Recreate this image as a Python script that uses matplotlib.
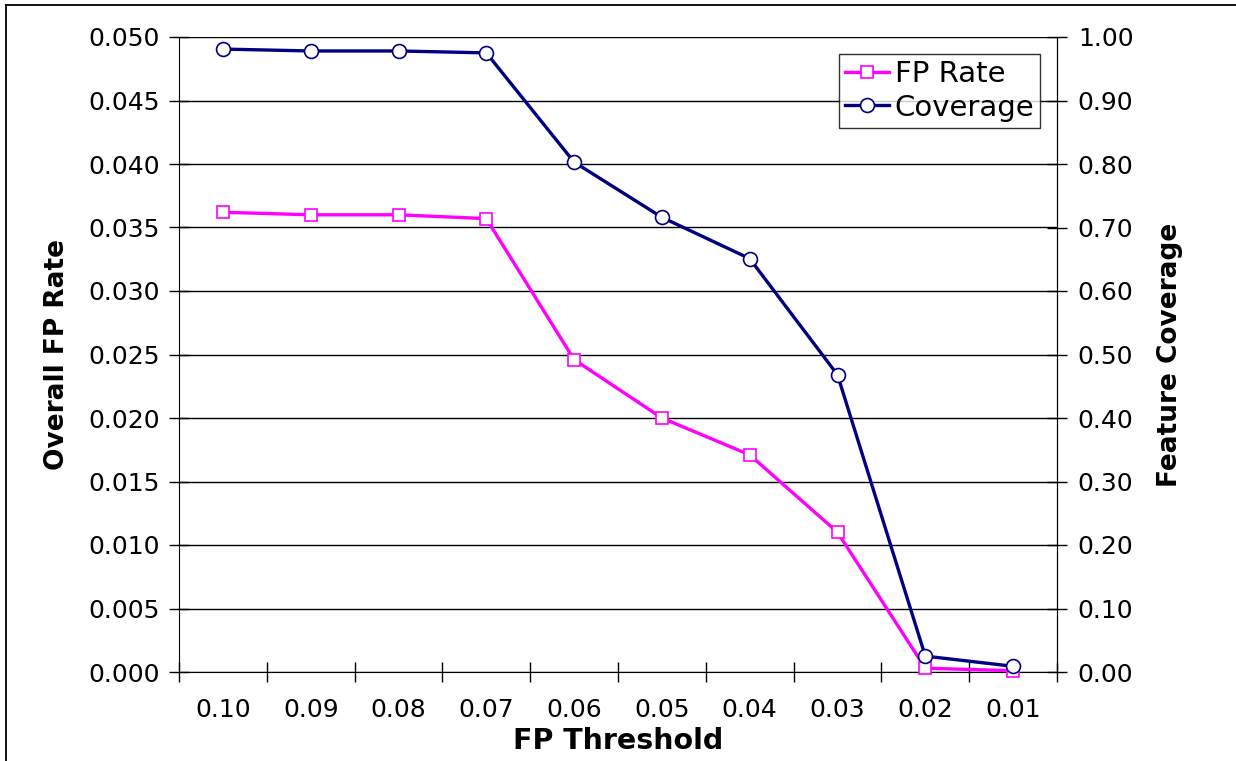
import matplotlib
matplotlib.use('Agg')
import matplotlib.pyplot as plt
from matplotlib.lines import Line2D

# Chart data
thresholds = ['0.10', '0.09', '0.08', '0.07', '0.06', '0.05', '0.04', '0.03', '0.02', '0.01']
fp_rate = [0.0362, 0.0360, 0.0360, 0.0357, 0.0246, 0.0200, 0.0171, 0.0110, 0.0003, 0.0001]
coverage = [0.981, 0.978, 0.978, 0.975, 0.803, 0.716, 0.651, 0.468, 0.025, 0.009]

left_ticks = [0.000, 0.005, 0.010, 0.015, 0.020, 0.025, 0.030, 0.035, 0.040, 0.045, 0.050]
right_ticks = [0.0, 0.1, 0.2, 0.3, 0.4, 0.5, 0.6, 0.7, 0.8, 0.9, 1.0]

plt.rcParams['font.family'] = 'DejaVu Sans'

W, H = 1236, 761
fig = plt.figure(figsize=(W/100, H/100), dpi=100)
ax = fig.add_axes([179/W, 1 - 672/H, 878/W, 635/H])
ax2 = ax.twinx()

x = list(range(len(thresholds)))

# figure border: top and left only
fig.lines.append(Line2D([6/W, 6/W], [0, 1 - 5/H], transform=fig.transFigure,
                        color='black', linewidth=1.3))
fig.lines.append(Line2D([6/W, 1], [1 - 5/H, 1 - 5/H], transform=fig.transFigure,
                        color='black', linewidth=1.3))

ax.set_xlim(-0.5, len(thresholds) - 0.5)
ax.set_ylim(0, 0.050)
ax2.set_ylim(0, 1.0)

ax.set_yticks(left_ticks)
ax.set_yticklabels(['%.3f' % v for v in left_ticks], fontsize=18)
ax2.set_yticks(right_ticks)
ax2.set_yticklabels(['%.2f' % v for v in right_ticks], fontsize=18)

ax.set_xticks([i + 0.5 for i in range(-1, len(thresholds))])
ax.set_xticklabels([])
ax.set_xticks(x, minor=True)
ax.set_xticklabels(thresholds, minor=True, fontsize=18)
ax.tick_params(axis='x', which='major', direction='inout', length=14, width=1)
ax.tick_params(axis='x', which='minor', length=0, pad=19)
ax.tick_params(axis='y', direction='inout', length=14, width=1, pad=7)
ax2.tick_params(axis='y', direction='inout', length=14, width=1, pad=8)

ax.grid(axis='y', color='black', linewidth=1)
ax.set_axisbelow(True)

ax.spines['top'].set_visible(False)
ax2.spines['top'].set_visible(False)
ax2.spines['left'].set_visible(False)
ax2.spines['bottom'].set_visible(False)

l1, = ax.plot(x, fp_rate, color='#ff00ff', linewidth=2.4, marker='s', markersize=9,
              markerfacecolor='white', markeredgecolor='#ff00ff', markeredgewidth=1.2,
              label='FP Rate', clip_on=False, zorder=3)
l2, = ax2.plot(x, coverage, color='#000080', linewidth=2.4, marker='o', markersize=10,
               markerfacecolor='white', markeredgecolor='#000080', markeredgewidth=1.2,
               label='Coverage', clip_on=False, zorder=3)

ax.set_ylabel('Overall FP Rate', fontsize=19, fontweight='bold')
ax.yaxis.set_label_coords((57 - 179)/878, (672 - 355)/635)
ax2.set_ylabel('Feature Coverage', fontsize=19, fontweight='bold')
ax2.yaxis.set_label_coords((1170 - 179)/878, (672 - 355)/635)
ax.set_xlabel('FP Threshold', fontsize=20.5, fontweight='bold')
ax.xaxis.set_label_coords((618 - 179)/878, -(741 - 672)/635)
ax.xaxis.label.set_va('center')
ax.yaxis.label.set_va('center')
ax2.yaxis.label.set_va('center')

leg = ax2.legend(handles=[l1, l2], loc='upper right',
                 bbox_to_anchor=((1040 - 179)/878, 1 - (54 - 37)/635),
                 fontsize=21, frameon=True, fancybox=False, edgecolor='black',
                 borderpad=0.2, handlelength=1.5, handletextpad=0.2, labelspacing=0.2,
                 borderaxespad=0)
leg.get_frame().set_linewidth(1)

fig.savefig('out.png', dpi=100)
